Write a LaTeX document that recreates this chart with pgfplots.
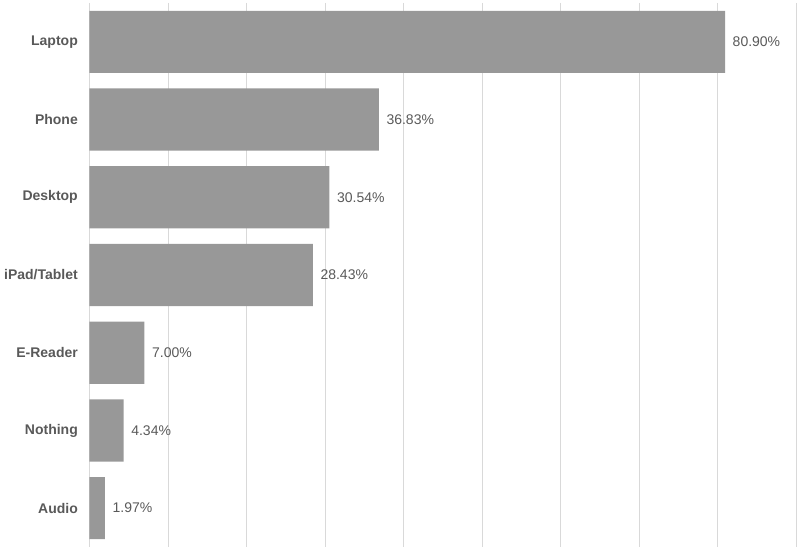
\documentclass[border=0pt]{standalone}
\usepackage{pgfplots}
\pgfplotsset{compat=1.18}
\usepackage{fontspec}
\setmainfont{Liberation Sans}
\definecolor{barg}{RGB}{152,152,152}
\definecolor{txtg}{RGB}{89,89,89}
\definecolor{gridg}{RGB}{217,217,217}
\begin{document}
\fontsize{14bp}{16bp}\selectfont
\begin{tikzpicture}
\begin{axis}[
  name=ax,
  scale only axis,
  width=707bp, height=544bp,
  xbar, bar width=0.8,
  xmin=0, xmax=90,
  ymin=-0.5, ymax=6.5,
  y dir=reverse,
  xtick={0,10,...,90},
  xticklabels={},
  ytick={0,...,6},
  yticklabels={Laptop,Phone,Desktop,iPad/Tablet,E-Reader,Nothing,Audio},
  yticklabel style={font=\bfseries\fontsize{14bp}{16bp}\selectfont, text=txtg, inner sep=0pt, xshift=-11.5bp},
  major tick length=0pt,
  xmajorgrids, grid style={gridg, line width=1bp},
  axis line style={draw=none},
  /pgf/number format/assume math mode=true,
  nodes near coords={\pgfmathprintnumber[fixed,fixed zerofill,precision=2]{\pgfplotspointmeta}\%},
  nodes near coords style={font=\fontsize{14bp}{16bp}\selectfont, text=txtg, anchor=west, inner sep=0pt, xshift=7.5bp},
  point meta=explicit,
]
\addplot[fill=barg, draw=none] table[meta index=2] {
x y m
80.90 0 80.90
36.83 1 36.83
30.54 2 30.54
28.43 3 28.43
7.00 4 7.00
4.34 5 4.34
1.97 6 1.97
};
\end{axis}
\pgfresetboundingbox
\path ([xshift=-89.5bp, yshift=-4bp]ax.south west) rectangle ([xshift=3.5bp, yshift=3bp]ax.north east);
\end{tikzpicture}
\end{document}
